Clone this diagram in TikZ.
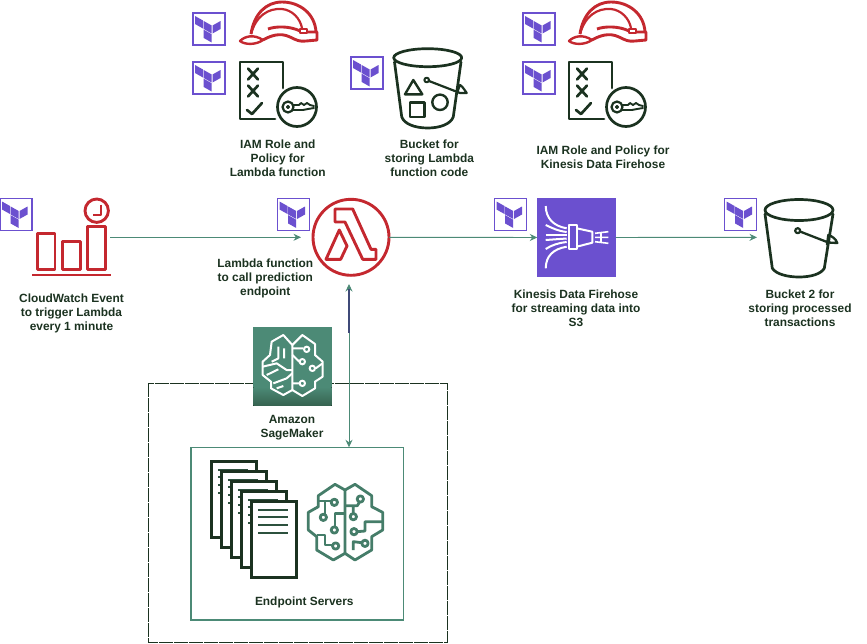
\documentclass[tikz,border=0pt]{standalone}
\usepackage{fontspec}
\setmainfont{Liberation Sans}
\usetikzlibrary{arrows.meta}
\definecolor{darkicon}{HTML}{1B3220}
\definecolor{redicon}{HTML}{C4282F}
\definecolor{purpleicon}{HTML}{6B50CF}
\definecolor{tealicon}{HTML}{4C8A76}
\definecolor{slateline}{HTML}{3F4A78}
\tikzset{
  caption/.style={font=\bfseries\fontsize{11.9}{14}\selectfont,text=darkicon,align=center,inner sep=0pt,yshift=-1.3pt},
  slot/.style={inner sep=0pt,outer sep=0pt,minimum size=78},
  flow/.style={color=tealicon,line width=0.9pt,-{Stealth[length=7.5pt,width=7pt]}},
  dark/.style={draw=darkicon,line width=2.7pt,line join=round,line cap=round},
  redline/.style={draw=redicon,line width=2.9pt,line join=round},
  tealline/.style={draw=tealicon!85!darkicon,line width=2.8pt,line join=round},
  whiteline/.style={draw=white,line width=2pt,line join=round},
  tfbox/.pic={
    \draw [purpleicon,line width=1.2pt] (0,0) rectangle (32,32);
    \fill [purpleicon] (2,3) -- (10,7.5) -- (10,15.5) -- (2,11) -- cycle;
    \fill [purpleicon] (10.7,8) -- (18.7,12.5) -- (18.7,20.5) -- (10.7,16) -- cycle;
    \fill [purpleicon] (19.5,12.5) -- (27.5,8) -- (27.5,16) -- (19.5,20.5) -- cycle;
    \fill [purpleicon] (10.7,16.7) -- (18.7,21.2) -- (18.7,29.5) -- (10.7,25) -- cycle;
  },
  helmet/.pic={
    \draw [redline] (11,34) .. controls (14,14) and (26,2) .. (42,2) .. controls (60,2) and (75,14) .. (76,32);
    \draw [redline,line width=2.2pt] (11,34) .. controls (16,16) and (28,8) .. (42,9) .. controls (52,10) and (60,18) .. (62,28);
    \draw [redline,line width=2.4pt] (0,41) .. controls (5,36) and (14,34) .. (23,40) .. controls (16,45) and (5,45) .. (0,41) -- cycle;
    \draw [redline] (23,40) .. controls (30,36) and (40,32) .. (50,37) .. controls (56,40) and (60,42) .. (66,41) -- (77,40) -- (77,32) -- (67,32);
    \draw [redline] (28,29) .. controls (36,26) and (50,26) .. (60,31);
    \draw [redline,line width=2pt] (60,29) rectangle (67,33);
  },
  keydoc/.pic={
    \draw [dark] (35,57) -- (0,57) -- (0,0) -- (43,0) -- (43,26);
    \draw [dark] (8,6.5) -- (18,17.5) (18,6.5) -- (8,17.5);
    \draw [dark] (8,23.5) -- (18,34.5) (18,23.5) -- (8,34.5);
    \draw [dark] (7,48) -- (12,52) -- (22,41);
    \draw [dark] (57,45) circle (19.5);
    \draw [dark,line width=2.2pt] (48,45) circle (5.5);
    \draw [dark,line width=1.6pt] (48,45) circle (1.3);
    \draw [dark,line width=1.9pt] (53,43) -- (59,43) -- (61,41) -- (64,43) -- (67,41) -- (70,43) -- (74,44);
    \draw [dark,line width=1.9pt] (53,48) -- (63,48) -- (68,47) -- (74,46);
  },
  brainicon/.pic={
    \draw [tealline,scale=1/3] (135,45) -- (105,28) -- (55,62) -- (55,95) -- (25,112) -- (25,165) -- (50,185) -- (50,225) -- (100,255) -- (135,235) -- cycle;
    \draw [tealline,scale=1/3] (135,45) -- (165,28) -- (215,62) -- (215,95) -- (248,112) -- (248,165) -- (215,185) -- (215,225) -- (165,255) -- (135,235);
    \draw [tealline,scale=1/3] (55,78) -- (93,78) (75,78) -- (75,117) (135,115) -- (105,115) -- (105,155);
    \draw [tealline,scale=1/3] (50,180) -- (75,180) -- (75,210) -- (97,210);
    \draw [tealline,scale=1/3] (135,92) -- (172,92) -- (178,82) (160,92) -- (160,115);
    \draw [tealline,scale=1/3] (248,140) -- (195,140) -- (195,168) -- (172,170);
    \draw [tealline,scale=1/3] (160,225) -- (160,200) -- (185,203);
    \foreach \cx/\cy in {103/82,70/127,103/165,107/213,181/72,160/125,162/170,195/205}
      \draw [tealline,scale=1/3] (\cx,\cy) circle (9.5);
  },
  docpage/.pic={
    \draw [draw=darkicon,fill=white,line width=3pt] (0,0) rectangle (45,76.7);
    \foreach \ly in {9,16.3,24,32.3}
      \draw [tealicon!35!darkicon,line width=2pt] (7.3,\ly) -- (36.7,\ly);
  },
}
\begin{document}
\begin{tikzpicture}[x=1pt,y=-1pt]
  \useasboundingbox (0,0) rectangle (867,643);

  % Drawing the dashed outer box and the endpoint box
  \draw [darkicon,line width=0.9pt,dash pattern=on 14pt off 1pt] (148.3,383.3) rectangle (447.3,642.3);
  \node [slot,draw=tealicon,line width=1.6pt,minimum width=212.3,minimum height=172.7] (endpoint) at (297.2,533.7) {};
  \node [caption] (endpointtext) at (304.3,600.7) {Endpoint Servers};

  % Drawing the Terraform marks
  \pic (tftopa) at (193,13) {tfbox};
  \pic (tftopb) at (193,62) {tfbox};
  \pic (tfbucket) at (351,57) {tfbox};
  \pic (tftopc) at (523,13) {tfbox};
  \pic (tftopd) at (523,62) {tfbox};
  \pic (tfcw) at (0,198.5) {tfbox};
  \pic (tflambda) at (277.5,198.5) {tfbox};
  \pic (tffirehose) at (494.5,198.5) {tfbox};
  \pic (tfprocessed) at (724.5,198.5) {tfbox};

  % Role icons of the top row
  \pic (helmeta) at (240,0) {helmet};
  \pic (keydoca) at (240,62) {keydoc};
  \pic (helmetb) at (569,0) {helmet};
  \pic (keydocb) at (569,62) {keydoc};
  \node [caption] (roletext) at (277.7,156.7) {IAM Role and\\Policy for\\Lambda function};
  \node [caption] (firehoserole) at (603,156) {IAM Role and Policy for\\Kinesis Data Firehose};

  % Bucket for the function code
  \draw [dark] (427.7,57.7) ellipse (34 and 9);
  \draw [dark] (394.5,62) -- (401.7,116.7) .. controls (404,124) and (415,128) .. (427.7,128) .. controls (440,128) and (451,124) .. (453.3,116.7) -- (461,62);
  \draw [dark,line width=2.4pt] (413.3,80) -- (405,94.3) -- (422.3,94.3) -- cycle;
  \draw [dark,line width=2.4pt] (410,102.3) rectangle (424.3,116.7);
  \draw [dark,line width=2.4pt] (440,102.3) circle (7.7);
  \draw [dark,line width=2pt] (426.7,80) circle (2.3);
  \draw [dark,line width=2.2pt] (429,81) -- (460,93) -- (466.7,93) .. controls (464,89) and (462,86) .. (460,85) -- (457.5,91.5);
  \node [caption] (buckettext) at (429.3,156.5) {Bucket for\\storing Lambda\\function code};

  % CloudWatch event icon
  \node [slot] (cwevent) at (71,237.3) {};
  \draw [redline] (37.7,233.3) rectangle (55,269.3);
  \draw [redline] (62.7,241.7) rectangle (80.3,269.3);
  \draw [redline] (87.7,226.7) rectangle (105.3,269.3);
  \draw [redline] (32.3,275) -- (110.7,275);
  \draw [redline] (96.7,210.7) circle (11.7);
  \draw [redline,line width=2.2pt] (101,204.5) -- (101,215) -- (92.7,215);
  \node [caption] (cwtext) at (71.5,311.7) {CloudWatch Event\\to trigger Lambda\\every 1 minute};

  % Lambda icon
  \node [slot,circle,draw=redicon,line width=2.9pt,minimum size=76] (lambda) at (351,237.3) {};
  \draw [redline] (335,209) -- (352.7,209) -- (371,249.3) -- (376,249.3) -- (376,259.3) -- (362.7,259.3) -- (345,222) -- (335,222) -- cycle;
  \draw [redline] (326,259.3) -- (339.3,230) -- (347,246) -- (340.7,259.3) -- cycle;
  \node [caption] (lambdatext) at (265.3,276.7) {Lambda function\\to call prediction\\endpoint};

  % Firehose icon
  \node [slot,fill=purpleicon,minimum size=78.4] (firehose) at (576.5,237.5) {};
  \draw [whiteline] (545.7,206) .. controls (546,218) and (553,226) .. (566.7,228.3);
  \draw [whiteline] (545.7,268.3) .. controls (546,256) and (553,249) .. (566.7,246.7);
  \draw [whiteline] (545.7,225) .. controls (552,228) and (558,231) .. (566.7,232);
  \draw [whiteline] (545.7,235) -- (566.7,235);
  \draw [whiteline] (545.7,240) -- (566.7,238.5);
  \draw [whiteline] (545.7,249) .. controls (552,245) and (558,243) .. (566.7,242);
  \draw [whiteline] (569.3,225) rectangle (576.7,249.3);
  \draw [whiteline] (576.7,228.3) -- (592.3,231.7) -- (592.3,242.7) -- (576.7,246.7);
  \draw [whiteline,line width=1.6pt] (595,233.3) -- (608.3,231.7) (595,237.3) -- (608.3,237.3) (595,241.7) -- (608.3,243.3) (601,233) -- (601,242);
  \node [caption] (firehosetext) at (576,306.7) {Kinesis Data Firehose\\for streaming data into\\S3};

  % Bucket for the processed data
  \node [slot] (processed) at (799,237.3) {};
  \draw [dark] (799,210) ellipse (34 and 10.5);
  \draw [dark] (765,214) -- (772.3,268.3) .. controls (776,274) and (787,277) .. (799,277) .. controls (811,277) and (821,274) .. (824.3,268.3) -- (833,214);
  \draw [dark,line width=2.2pt] (797.7,230.7) circle (2.5);
  \draw [dark,line width=2.3pt] (800,231.5) -- (828.3,242.5) -- (837.3,243) .. controls (836,239) and (832,236) .. (828.3,235) -- (827,244.5);
  \node [caption] (processedtext) at (800,306.7) {Bucket 2 for\\storing processed\\transactions};

  % SageMaker icon
  \node [slot,fill=tealicon,minimum size=78.4] (sagemaker) at (292.5,366.5) {};
  \fill [top color=tealicon,bottom color=tealicon!55!darkicon] (253.3,387) rectangle (331.7,405.7);
  \begin{scope}[shift={(140,320)},scale=1/3]
    \draw [whiteline] (457,75) -- (430,45) -- (395,65) -- (390,105) -- (368,125) -- (368,165) -- (393,185) -- (393,205) -- (430,225) -- (457,210) -- cycle;
    \draw [whiteline] (457,75) -- (487,45) -- (525,72) -- (525,105) -- (548,125) -- (548,170) -- (525,185) -- (525,205) -- (487,228) -- (457,210);
    \draw [whiteline] (415,80) -- (415,115) -- (395,125) (432,85) -- (432,115) (368,140) -- (410,130) -- (440,150) -- (457,150);
    \draw [whiteline] (380,165) -- (415,148) (400,190) -- (440,175) -- (457,160) (410,205) -- (430,198);
    \draw [whiteline] (457,85) -- (490,85) (457,105) -- (478,125) (527,145) -- (548,130) (457,190) -- (477,190);
    \foreach \cx/\cy in {500/88,487/125,517/145,487/190}
      \draw [whiteline] (\cx,\cy) circle (8);
  \end{scope}
  \node [caption] (sagetext) at (292,426) {Amazon\\SageMaker};

  % Server pages and brain inside the endpoint box
  \foreach \k in {0,...,4}
    \pic at (211+10*\k,461+10*\k) {docpage};
  \pic (brainb) at (300,475) {brainicon};

  % Drawing the connectors
  \coordinate (lambdain) at (349,284);
  \coordinate (endpointin) at (349,447.3);
  \coordinate (sagemid) at (349,333);
  \draw [flow,shorten >=12pt] (cwevent) -- (lambda);
  \draw [flow] (lambda) -- (firehose);
  \draw [flow,shorten >=3pt] (firehose) -- (processed);
  \draw [flow,{Stealth[length=7.5pt,width=7pt]}-{Stealth[length=7.5pt,width=7pt]}] (lambdain) -- (endpointin);
  \draw [slateline,line width=1.4pt] (lambdain) ++(0,5) -- (sagemid);
\end{tikzpicture}
\end{document}
